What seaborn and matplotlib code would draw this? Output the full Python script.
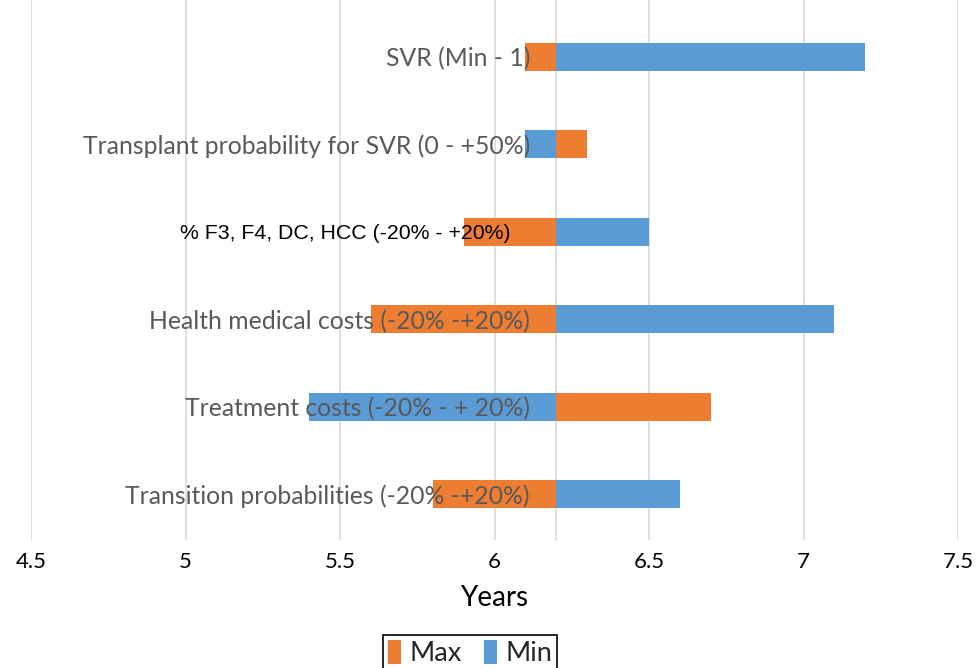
import matplotlib
matplotlib.use("Agg")
import matplotlib.pyplot as plt
import seaborn as sns
import pandas as pd
from matplotlib.patches import Patch
from matplotlib.transforms import ScaledTranslation

# ---- data ----
parameters = [
    "SVR (Min - 1)",
    "Transplant probability for SVR (0 - +50%)",
    "% F3, F4, DC, HCC (-20% - +20%)",
    "Health medical costs (-20% -+20%)",
    "Treatment costs (-20% - + 20%)",
    "Transition probabilities (-20% -+20%)",
]
base_value = 6.2
max_values = [6.1, 6.3, 5.9, 5.6, 6.7, 5.8]
min_values = [7.2, 6.1, 6.5, 7.1, 5.4, 6.6]
series_names = ["Max", "Min"]
series_colors = {"Max": "#ED7D31", "Min": "#5B9BD5"}
x_ticks = [4.5, 5, 5.5, 6, 6.5, 7, 7.5]
x_tick_labels = ["4.5", "5", "5.5", "6", "6.5", "7", "7.5"]
x_label = "Years"

rows = []
for p, mx, mn in zip(parameters, max_values, min_values):
    rows.append(dict(Parameter=p, Series="Max", Delta=mx - base_value))
    rows.append(dict(Parameter=p, Series="Min", Delta=mn - base_value))
df = pd.DataFrame(rows)

sns.set_theme(style="white")
plt.rcParams["font.family"] = ["Lato", "DejaVu Sans"]

fig = plt.figure(figsize=(9.76, 6.68), dpi=100)
ax = fig.add_axes([31 / 976, 1 - 540 / 668, (958 - 31) / 976, 540 / 668])

sns.barplot(data=df, x="Delta", y="Parameter", hue="Series", order=parameters,
            hue_order=series_names, palette=series_colors, dodge=False,
            saturation=1, width=0.32, left=base_value, errorbar=None, legend=False,
            edgecolor="none", linewidth=0, ax=ax, zorder=2)

ax.set_xlim(4.5, 7.5)
ax.set_ylim(5.52, -0.65)
ax.set_xticks(x_ticks)
ax.set_xticklabels(x_tick_labels)
ax.grid(False)
for t in x_ticks:
    ax.axvline(t, color="#D9D9D9", lw=1.2, zorder=0)

for s in ["top", "right", "bottom"]:
    ax.spines[s].set_visible(False)
ax.spines["left"].set_position(("data", base_value))
ax.spines["left"].set_color("#D9D9D9")
ax.spines["left"].set_linewidth(1.2)
ax.spines["left"].set_zorder(1)
ax.yaxis.set_zorder(5)
ax.xaxis.set_zorder(5)

ax.tick_params(axis="y", length=0, pad=19, labelsize=17.8, labelcolor="#595959")
ax.tick_params(axis="x", length=0, pad=9, labelsize=16, labelcolor="black")
ax.set_ylabel("")
ax.set_xlabel(x_label, fontsize=20, labelpad=9, color="black")

# special style for the third label
lab = ax.get_yticklabels()[2]
lab.set_fontfamily("Liberation Sans")
lab.set_fontsize(15.3)
lab.set_color("black")
lab.set_transform(lab.get_transform() + ScaledTranslation(-19 / 100, 0, fig.dpi_scale_trans))

handles = [Patch(facecolor=series_colors[n], edgecolor="none", label=n) for n in series_names]
leg = fig.legend(handles=handles, loc="upper center", bbox_to_anchor=(470 / 976, 1 - 621 / 668),
                 ncol=2, fontsize=19.5, frameon=True, fancybox=False, framealpha=1,
                 edgecolor="black", handlelength=0.5, handleheight=1.0,
                 handletextpad=0.3, columnspacing=0.8, borderpad=0.2)
leg.get_frame().set_linewidth(1.2)

fig.savefig("out.png", dpi=100)
